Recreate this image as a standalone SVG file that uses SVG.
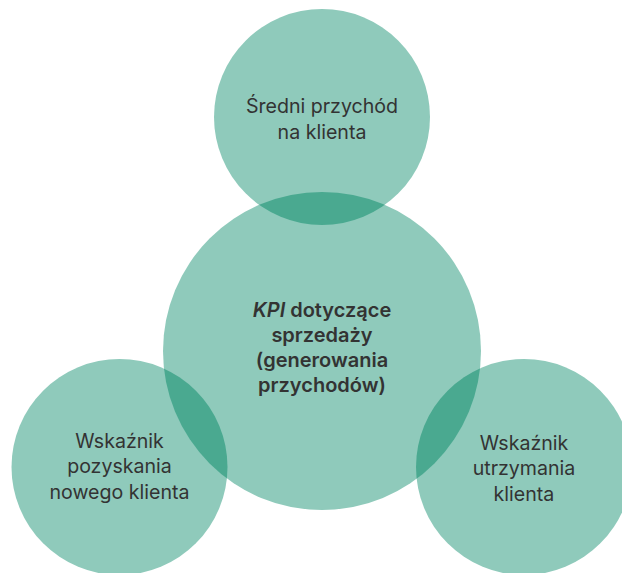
<svg xmlns="http://www.w3.org/2000/svg" width="622" height="573" viewBox="0 0 622 573">
  <style>
    .disc { fill: #8fcabb; }
    .lap { fill: #4aa990; }
    .lbl { font-family: Inter, "Noto Sans", sans-serif; font-size: 19.6px; fill: #333333; text-anchor: middle; }
    .hub { font-weight: 600; font-size: 20px; }
  </style>
  <defs>
    <clipPath id="clip-hub">
      <circle cx="322" cy="351" r="159"/>
    </clipPath>
  </defs>
  <rect width="622" height="573" fill="#ffffff"/>

  <g id="node-top">
    <circle class="disc" cx="322" cy="117" r="108"/>
  </g>
  <g id="node-left">
    <circle class="disc" cx="119.5" cy="467" r="108"/>
  </g>
  <g id="node-right">
    <circle class="disc" cx="524" cy="467" r="108"/>
  </g>
  <g id="node-hub">
    <circle class="disc" cx="322" cy="351" r="159"/>
  </g>

  <!-- overlapping lenses between the hub and each outer circle -->
  <g id="connectors" clip-path="url(#clip-hub)">
    <circle class="lap" cx="322" cy="117" r="108"/>
    <circle class="lap" cx="119.5" cy="467" r="108"/>
    <circle class="lap" cx="524" cy="467" r="108"/>
  </g>

  <g id="labels">
    <text class="lbl" x="322" y="113">Średni przychód</text>
    <text class="lbl" x="322" y="139">na klienta</text>

    <text class="lbl hub" x="322" y="317"><tspan font-style="italic">KPI</tspan> dotyczące</text>
    <text class="lbl hub" x="322" y="342">sprzedaży</text>
    <text class="lbl hub" x="322" y="367">(generowania</text>
    <text class="lbl hub" x="322" y="392">przychodów)</text>

    <text class="lbl" x="119.5" y="448">Wskaźnik</text>
    <text class="lbl" x="119.5" y="473">pozyskania</text>
    <text class="lbl" x="119.5" y="499">nowego klienta</text>

    <text class="lbl" x="524" y="450">Wskaźnik</text>
    <text class="lbl" x="524" y="475">utrzymania</text>
    <text class="lbl" x="524" y="501">klienta</text>
  </g>
</svg>
